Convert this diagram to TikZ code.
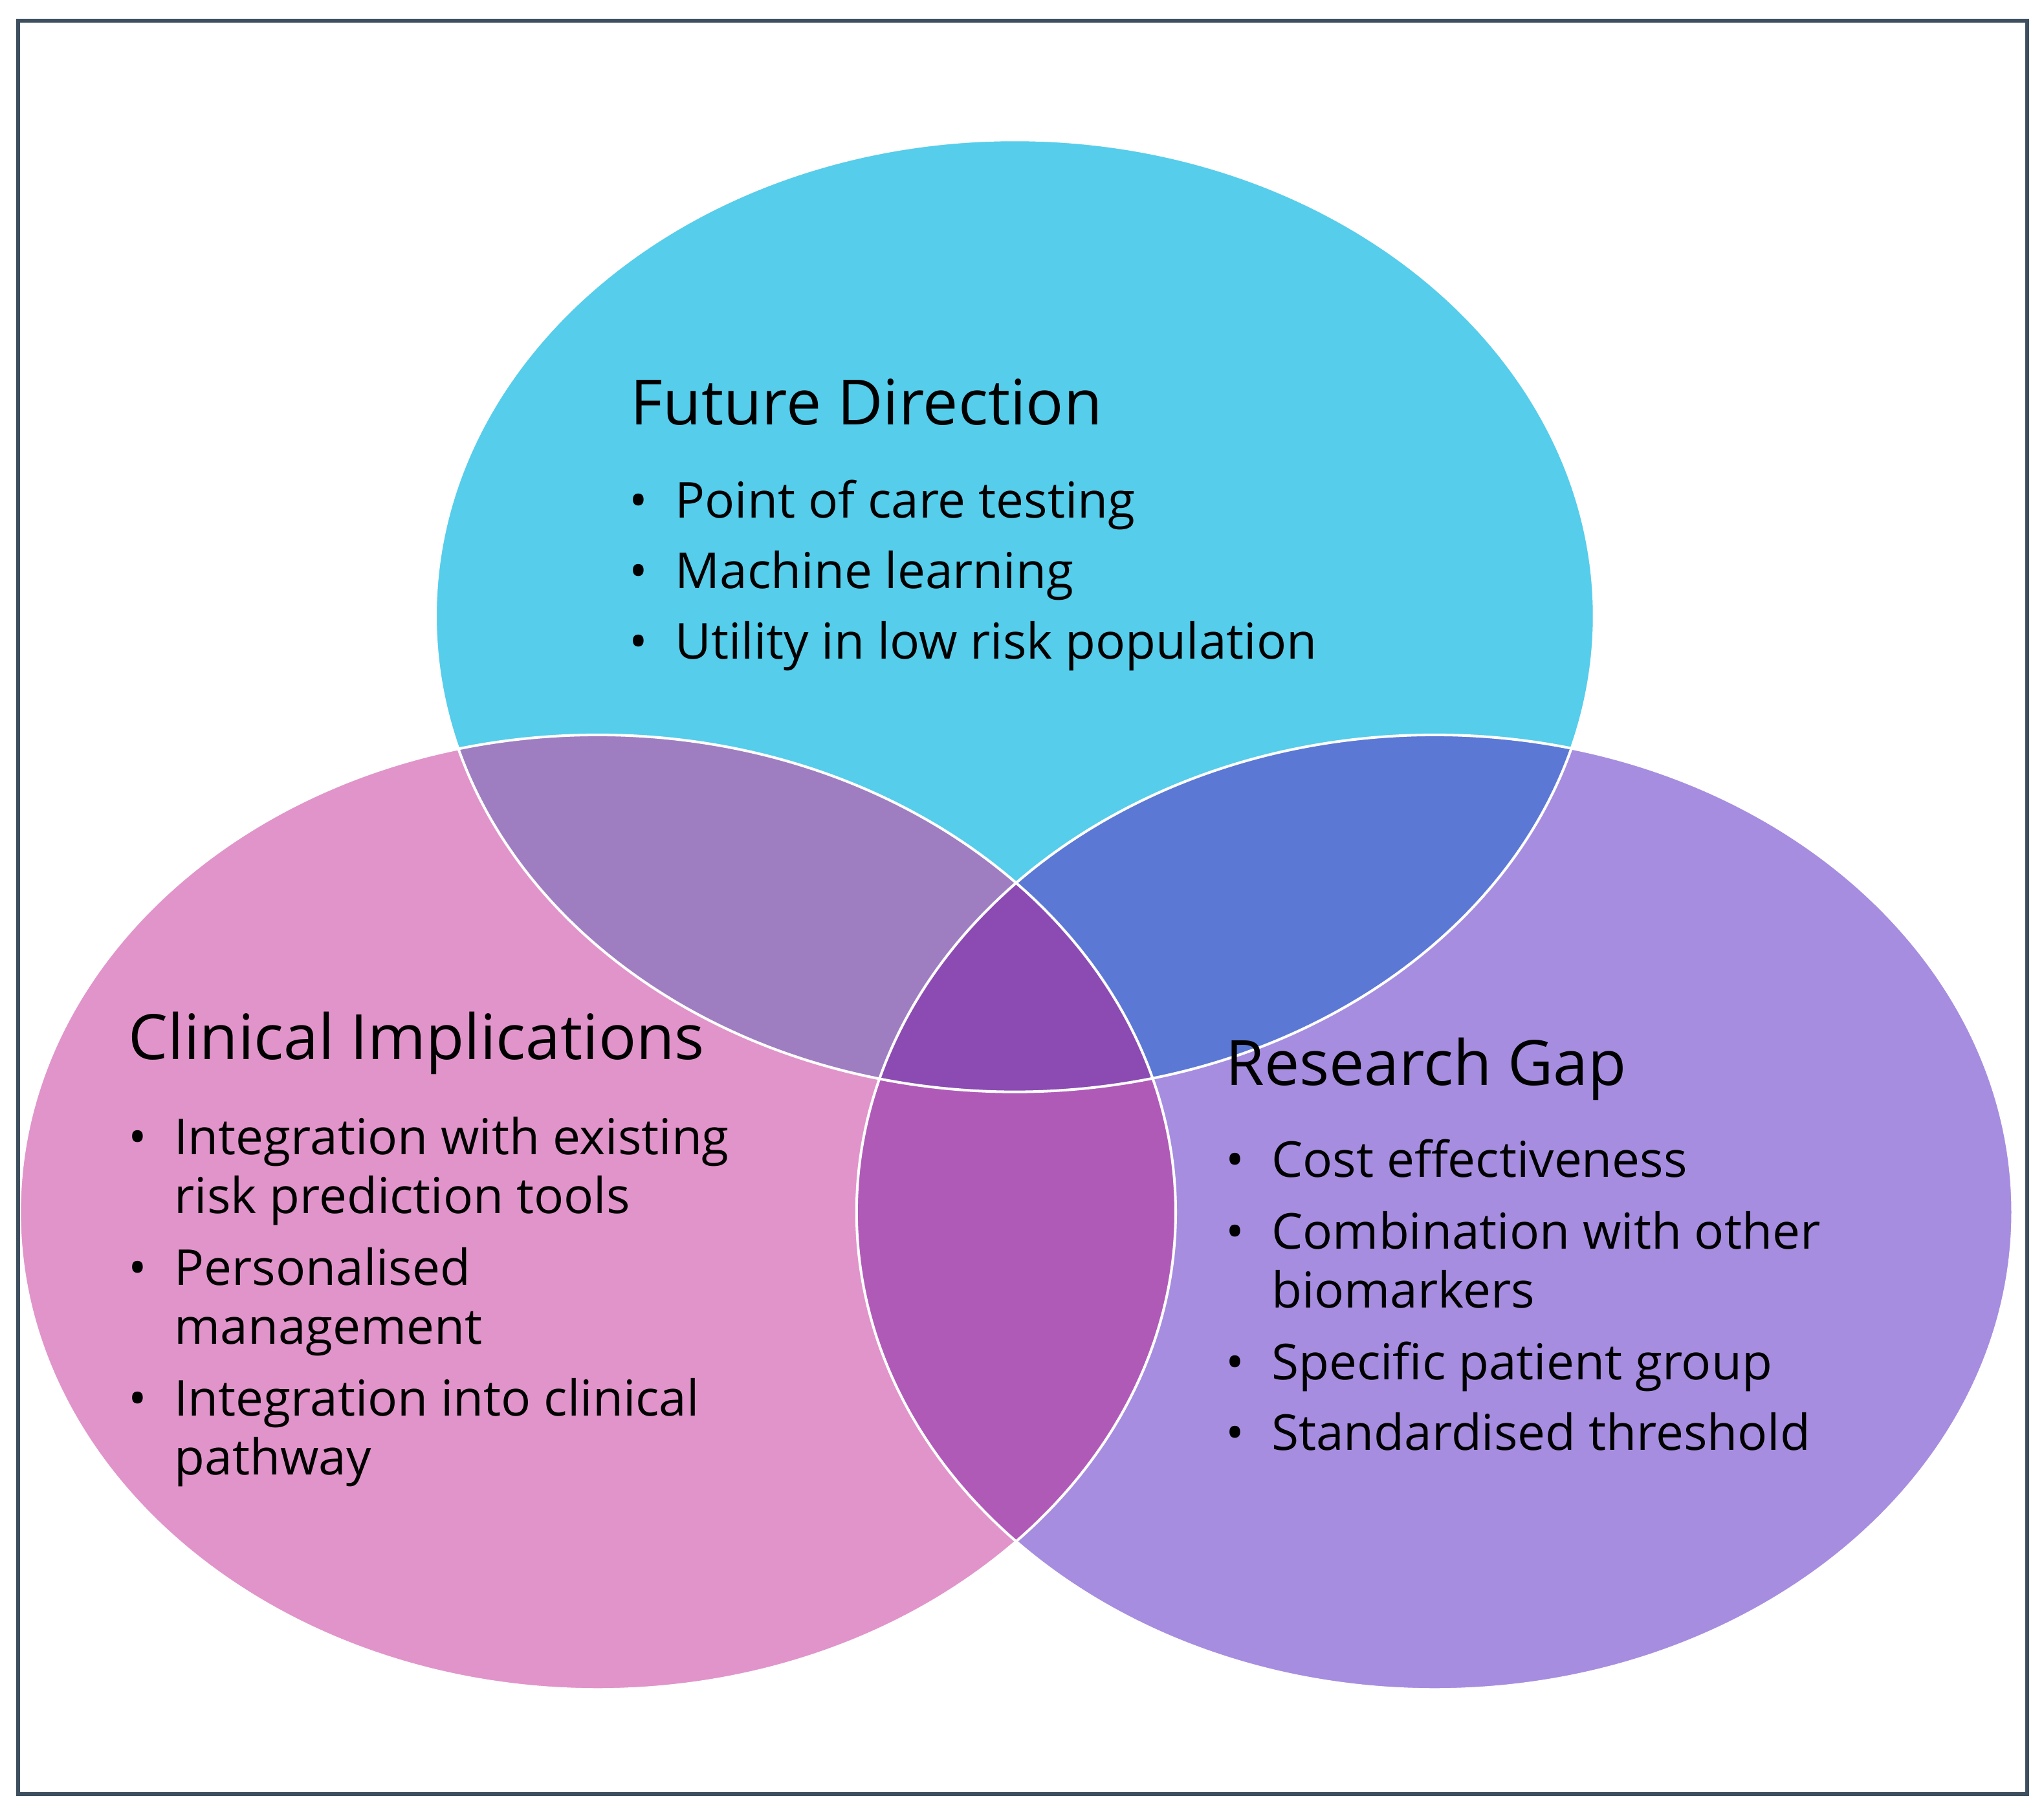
\documentclass[tikz,border=0pt]{standalone}
\usepackage{fontspec}
\setmainfont{Open Sans}
\begin{document}
\begin{tikzpicture}[x=0.5bp,y=-0.5bp,
  txt/.style={anchor=base west,inner sep=0pt,font=\fontsize{19}{22}\selectfont},
  ttl/.style={anchor=base west,inner sep=0pt,font=\fontsize{24}{28}\selectfont},
  bul/.style={anchor=base west,inner sep=0pt,font=\fontsize{19}{22}\selectfont}]
\definecolor{cT}{HTML}{55CDEB}
\definecolor{cL}{HTML}{E194CA}
\definecolor{cR}{HTML}{A68DE0}
\definecolor{cTL}{HTML}{9E7EC0}
\definecolor{cTR}{HTML}{5B78D4}
\definecolor{cLR}{HTML}{B05AB8}
\definecolor{cC}{HTML}{8B4BB2}
\definecolor{frame}{HTML}{3D4F5F}
\useasboundingbox (0,0) rectangle (1563,1390);
\fill[white] (0,0) rectangle (1563,1390);
\def\ET{(776,471) ellipse [x radius=443,y radius=364]}
\def\EL{(457,927) ellipse [x radius=442,y radius=365]}
\def\ER{(1097,927) ellipse [x radius=442,y radius=365]}
\fill[cT] \ET; \fill[cL] \EL; \fill[cR] \ER;
\begin{scope}\clip \ET; \fill[cTL] \EL; \fill[cTR] \ER;\end{scope}
\begin{scope}\clip \EL; \fill[cLR] \ER;\end{scope}
\begin{scope}\clip \ET; \clip \EL; \fill[cC] \ER;\end{scope}
\draw[white,line width=1bp] \ET; \draw[white,line width=1bp] \EL; \draw[white,line width=1bp] \ER;
\draw[frame,line width=1.5bp] (14,16) rectangle (1550,1372);
% Future Direction
\node[ttl] (t1) at (482,325) {Future Direction};
\node[bul] (b1) at (481,396) {•}; \node[txt] (f1) at (516,396) {Point of care testing};
\node[bul] (b2) at (481,450) {•}; \node[txt] (f2) at (516,450) {Machine learning};
\node[bul] (b3) at (481,504) {•}; \node[txt] (f3) at (516,504) {Utility in low risk population};
% Clinical
\node[ttl] (t2) at (98,810) {Clinical Implications};
\node[bul] (c0) at (98,883) {•}; \node[txt] (c1) at (133,883) {Integration with existing};
\node[txt] (c2) at (133,928) {risk prediction tools};
\node[bul] (c00) at (98,983) {•}; \node[txt] (c3) at (133,983) {Personalised};
\node[txt] (c4) at (133,1028) {management};
\node[bul] (c000) at (98,1083) {•}; \node[txt] (c5) at (133,1083) {Integration into clinical};
\node[txt] (c6) at (133,1128) {pathway};
% Research
\node[ttl] (t3) at (937,830) {Research Gap};
\node[bul] (r0) at (937,900) {•}; \node[txt] (r1) at (972,900) {Cost effectiveness};
\node[bul] (r00) at (937,955) {•}; \node[txt] (r2) at (972,955) {Combination with other};
\node[txt] (r3) at (972,1000) {biomarkers};
\node[bul] (r000) at (937,1055) {•}; \node[txt] (r4) at (972,1055) {Specific patient group};
\node[bul] (r0000) at (937,1109) {•}; \node[txt] (r5) at (972,1109) {Standardised threshold};
\end{tikzpicture}
\end{document}
